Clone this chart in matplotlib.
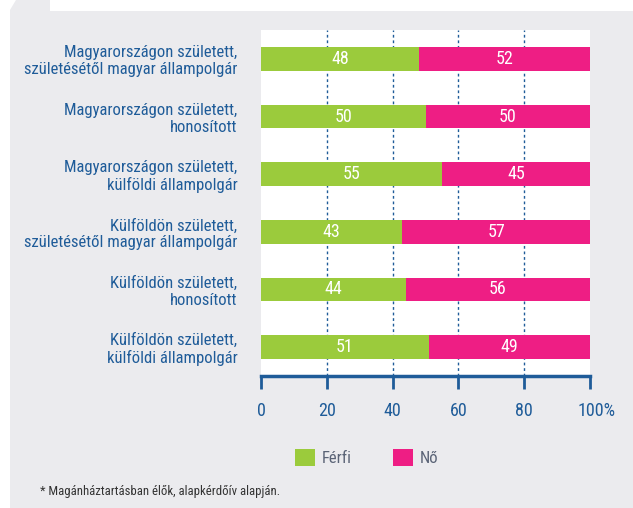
import matplotlib
matplotlib.use("Agg")
import matplotlib.pyplot as plt
from matplotlib.patches import Polygon
import matplotlib.transforms as mtransforms

plt.rcParams['font.family'] = ['Roboto Condensed', 'DejaVu Sans']

kategoriak = [
    "Magyarországon született,\nszületésétől magyar állampolgár",
    "Magyarországon született,\nhonosított",
    "Magyarországon született,\nkülföldi állampolgár",
    "Külföldön született,\nszületésétől magyar állampolgár",
    "Külföldön született,\nhonosított",
    "Külföldön született,\nkülföldi állampolgár",
]
ferfi = [48, 50, 55, 43, 44, 51]
no = [52, 50, 45, 57, 56, 49]
tick_ertekek = [0, 20, 40, 60, 80, 100]
tick_cimkek = ["0", "20", "40", "60", "80", "100%"]

zold = "#9BCB3C"
rozsaszin = "#EE1E84"
kek = "#1F5C99"
hatter = "#EBEBEE"

W, H = 633, 508
fig = plt.figure(figsize=(W / 100, H / 100), dpi=100)
fig.patch.set_facecolor("white")

def px(x, y):
    return (x / W, 1 - y / H)

# szürke panel, bal felső fülecskével
panel = Polygon([px(10, 508), px(10, 10), px(16, 0), px(50, 0), px(50, 11),
                 px(633, 11), px(633, 508)],
                closed=True, transform=fig.transFigure, facecolor=hatter,
                edgecolor="none", zorder=-5)
fig.patches.append(panel)

ax = fig.add_axes([261 / W, 1 - 376 / H, (590 - 261) / W, (376 - 30) / H])
ax.set_zorder(2)
ax.set_facecolor("white")

y = list(range(len(kategoriak)))
ax.barh(y, ferfi, height=0.415, color=zold, zorder=3, label="Férfi")
ax.barh(y, no, left=ferfi, height=0.415, color=rozsaszin, zorder=3, label="Nő")

for i in y:
    ax.text(ferfi[i] / 2, i, str(ferfi[i]), ha="center", va="center",
            color="white", fontsize=13, zorder=4)
    ax.text(ferfi[i] + no[i] / 2, i, str(no[i]), ha="center", va="center",
            color="white", fontsize=13, zorder=4)

ax.set_xlim(0, 100)
ax.set_ylim(5.5, -0.5)

for x in tick_ertekek[1:-1]:
    ax.axvline(x, color=kek, lw=1, linestyle=(0, (2, 2)), zorder=1)

for s in ["top", "right", "left"]:
    ax.spines[s].set_visible(False)
ax.spines["bottom"].set_color(kek)
ax.spines["bottom"].set_linewidth(2.5)

ax.set_xticks(tick_ertekek)
ax.set_xticklabels(tick_cimkek, fontsize=13, color=kek)
ax.tick_params(axis="x", length=9, width=2, color=kek, pad=10)
# a "%" jel a 100 után áll, nem középen
lbl = ax.get_xticklabels()[-1]
lbl.set_transform(lbl.get_transform() + mtransforms.ScaledTranslation(7 / 100, 0, fig.dpi_scale_trans))

ax.set_yticks(y)
ax.set_yticklabels(kategoriak, fontsize=12, color=kek, linespacing=1.15)
ax.tick_params(axis="y", length=0, pad=17)

# jelmagyarázat
lx = ax.legend(loc="upper left", bbox_to_anchor=(295 / W, 1 - 449 / H),
               bbox_transform=fig.transFigure, ncol=2, frameon=False,
               fontsize=12, borderpad=0, borderaxespad=0,
               handlelength=1.19, handleheight=1.19,
               handletextpad=0.4, columnspacing=2.5)
for t in lx.get_texts():
    t.set_color("#5A6376")

fig.text(40 / W, 1 - 492 / H, "* Magánháztartásban élők, alapkérdőív alapján.",
         fontsize=9.2, color="#333333", va="center", ha="left")

fig.savefig("out.png", dpi=100, facecolor=fig.get_facecolor())
